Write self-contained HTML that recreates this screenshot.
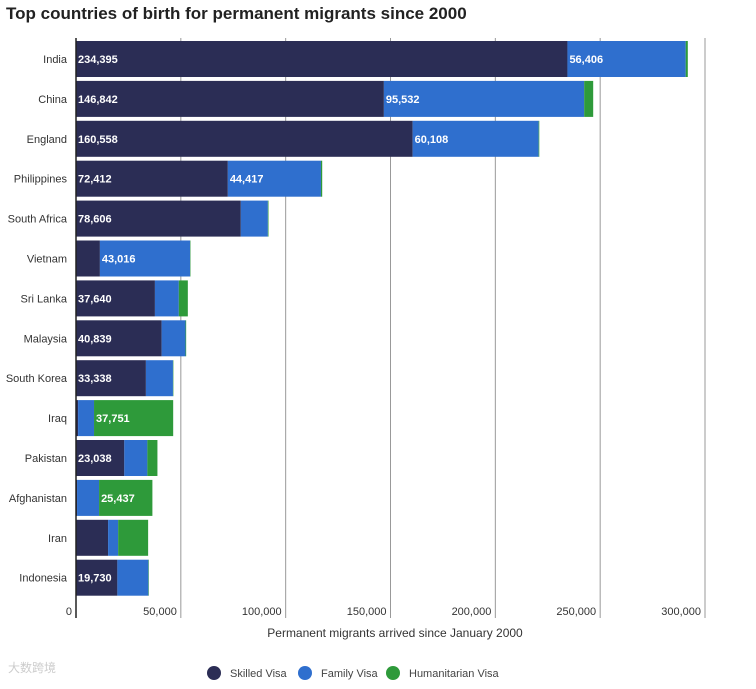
<!DOCTYPE html>
<html><head><meta charset="utf-8">
<style>
body{margin:0;background:#fff;font-family:"Liberation Sans",sans-serif;}
svg text{font-family:"Liberation Sans",sans-serif;}
</style></head>
<body>
<svg width="756" height="684">
<text x="6" y="19" font-size="17" font-weight="bold" fill="#222">Top countries of birth for permanent migrants since 2000</text>
<g id="grid"></g>
<g id="bars"></g>
<line x1="76" y1="38" x2="76" y2="618" stroke="#222" stroke-width="1.5"/>
<g id="ticks"></g>
<text x="395" y="637" font-size="12" fill="#333" text-anchor="middle">Permanent migrants arrived since January 2000</text>
<g>
<circle cx="214" cy="673" r="7" fill="#2b2d55"/>
<text x="230" y="677" font-size="11" fill="#444">Skilled Visa</text>
<circle cx="305" cy="673" r="7" fill="#2f6fce"/>
<text x="321" y="677" font-size="11" fill="#444">Family Visa</text>
<circle cx="393" cy="673" r="7" fill="#2e9a3a"/>
<text x="409" y="677" font-size="11" fill="#444">Humanitarian Visa</text>
</g>
<text x="8" y="672" font-size="12" fill="#ccc">大数跨境</text>
</svg>
<script>
const categories=["India","China","England","Philippines","South Africa","Vietnam","Sri Lanka","Malaysia","South Korea","Iraq","Pakistan","Afghanistan","Iran","Indonesia"];
const skilled=[234395,146842,160558,72412,78606,11400,37640,40839,33338,1000,23038,500,15300,19730];
const family=[56406,95532,60108,44417,12900,43016,11400,11400,12900,7600,11000,10500,4800,14800];
const humanitarian=[1000,4300,300,600,300,200,4300,300,200,37751,4800,25437,14300,200];
const xTicks=[0,50000,100000,150000,200000,250000,300000];
const xTickLabels=["0","50,000","100,000","150,000","200,000","250,000","300,000"];
const NS="http://www.w3.org/2000/svg";
const x=v=>76+v*629/300000;
const y=i=>59+i*39.9;
const fmt=v=>v.toLocaleString("en-US");
function mk(tag,attrs,parent){const e=document.createElementNS(NS,tag);for(const k in attrs)e.setAttribute(k,attrs[k]);parent.appendChild(e);return e;}
const grid=document.getElementById("grid"),bars=document.getElementById("bars"),ticks=document.getElementById("ticks");
xTicks.forEach((t,i)=>{
 if(i>0){const l=mk("line",{x1:x(t),x2:x(t),y1:38,y2:618,stroke:"#999","stroke-width":1},grid);
 
 }
 const tx=mk("text",{x:i==0?72:x(t)-4,y:615,"font-size":11,fill:"#333","text-anchor":"end"},ticks);
 tx.textContent=xTickLabels[i];
 
 
});
const series=[[skilled,"#2b2d55","skilled"],[family,"#2f6fce","family"],[humanitarian,"#2e9a3a","humanitarian"]];
categories.forEach((c,i)=>{
 const lab=mk("text",{x:67,y:y(i)+4,"font-size":11,fill:"#333","text-anchor":"end"},bars);
 lab.textContent=c;
 
 
 let acc=0;
 series.forEach(([arr,col,nm])=>{
  const v=arr[i];
  const r=mk("rect",{x:x(acc),y:y(i)-18,width:Math.max(0,x(acc+v)-x(acc)),height:36,fill:col},bars);
  
  
  if(x(acc+v)-x(acc)>38){
   const t=mk("text",{x:x(acc)+2,y:y(i)+4,"font-size":11,"font-weight":"bold",fill:"#fff"},bars);
   t.textContent=fmt(v);
   
   
  }
  acc+=v;
 });
});
</script>
</body></html>
